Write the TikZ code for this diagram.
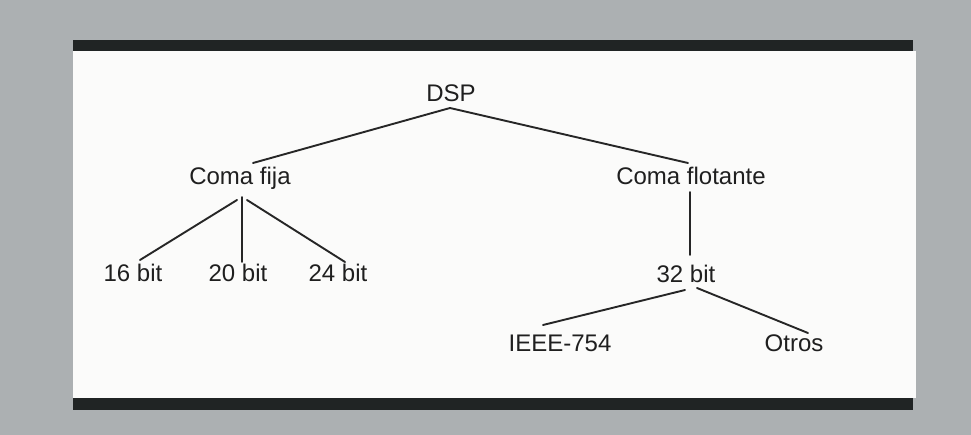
\documentclass[tikz,border=0pt]{standalone}
\usepackage{fontspec}
\setmainfont{Liberation Sans}
\definecolor{bgray}{RGB}{172,176,178}
\definecolor{barc}{RGB}{32,36,36}
\definecolor{panel}{RGB}{251,251,250}
\definecolor{linec}{RGB}{38,38,38}
\begin{document}
\begin{tikzpicture}[x=1pt,y=-1pt,
  lbl/.style={inner sep=0pt,anchor=base,font=\fontsize{24}{26}\selectfont,text=black!88},
  conn/.style={draw=linec,line width=1.9pt,line cap=round}]
\fill[bgray] (0,0) rectangle (971,435);
\useasboundingbox (0,0) rectangle (971,435);
\fill[panel] (73,51) rectangle (916,398);
\fill[barc] (73,40.5) rectangle (913,51.5);
\fill[barc] (73,398) rectangle (913,409.5);
% nodes
\node[lbl] (dsp) at (451,102) {DSP};
\node[lbl] (cfi) at (240,185) {Coma fija};
\node[lbl] (cfl) at (691,185) {Coma flotante};
\node[lbl] (b16) at (133,282) {16 bit};
\node[lbl] (b20) at (238,282) {20 bit};
\node[lbl] (b24) at (338,282) {24 bit};
\node[lbl] (b32) at (686,283) {32 bit};
\node[lbl] (ieee) at (560,352) {IEEE-754};
\node[lbl] (otros) at (794,352) {Otros};
% connector ends
\coordinate (dspA) at (450,108);
\coordinate (cfiT) at (253,163);
\coordinate (cflT) at (688,163);
\coordinate (cfiL) at (237,200);
\coordinate (cfiM) at (242,197);
\coordinate (cfiR) at (247,200);
\coordinate (b16T) at (140,260);
\coordinate (b20T) at (242,262);
\coordinate (b24T) at (345,262);
\coordinate (cflB) at (690,192);
\coordinate (b32T) at (690,255);
\coordinate (b32L) at (685,290);
\coordinate (b32R) at (697,288);
\coordinate (ieeeT) at (543,325);
\coordinate (otrosT) at (808,333);
\draw[conn] (dspA) -- (cfiT);
\draw[conn] (dspA) -- (cflT);
\draw[conn] (cfiL) -- (b16T);
\draw[conn] (cfiM) -- (b20T);
\draw[conn] (cfiR) -- (b24T);
\draw[conn] (cflB) -- (b32T);
\draw[conn] (b32L) -- (ieeeT);
\draw[conn] (b32R) -- (otrosT);
\end{tikzpicture}
\end{document}
